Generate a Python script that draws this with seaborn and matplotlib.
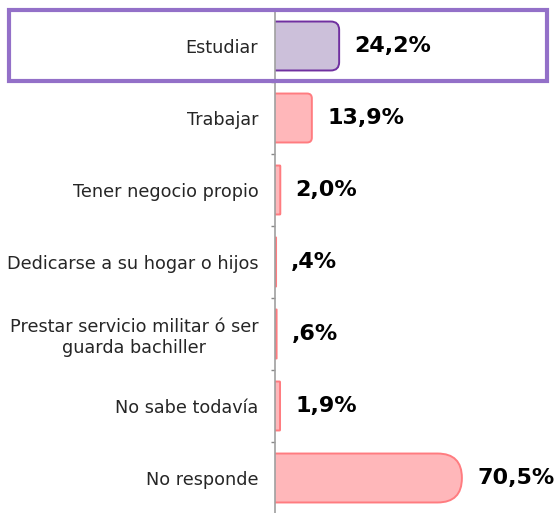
import matplotlib.pyplot as plt
import seaborn as sns
from matplotlib.patches import FancyBboxPatch, Rectangle

categories = ["Estudiar", "Trabajar", "Tener negocio propio",
              "Dedicarse a su hogar o hijos",
              "Prestar servicio militar ó ser\nguarda bachiller",
              "No sabe todavía", "No responde"]
values = [24.2, 13.9, 2.0, 0.4, 0.6, 1.9, 70.5]
labels = ["24,2%", "13,9%", "2,0%", ",4%", ",6%", "1,9%", "70,5%"]

fills = ["#ccc0da"] + ["#ffb7ba"] * 6
edges = ["#7030a0"] + ["#ff7c80"] * 6

sns.set_theme(style="white")
plt.rcParams['font.family'] = ['DejaVu Sans']

fig = plt.figure(figsize=(5.56, 5.13), dpi=100)
ax = fig.add_axes([275 / 556, -1 / 513, 1 - 275 / 556, 1 - 9 / 513])

sns.barplot(x=values, y=categories, hue=categories, palette=fills,
            saturation=1, legend=False, width=0.68, orient="h", ax=ax)
ax.set_xlim(0, 106)

# px per data unit, to keep rounded ends circular-ish
px_x = (556 - 275) / 106
px_y = 72.0
for p, ec, lbl in zip(list(ax.patches), edges, labels):
    x, y, w, h = p.get_x(), p.get_y(), p.get_width(), p.get_height()
    p.set_visible(False)
    r = min(0.13 * w, 0.5 * h * px_y / px_x)
    box = FancyBboxPatch((x - r, y), w + r, h,
                         boxstyle=f"round,pad=0,rounding_size={r}",
                         mutation_aspect=px_x / px_y,
                         fc=p.get_facecolor(), ec=ec, lw=1.4, zorder=2)
    ax.add_patch(box)
    ax.annotate(lbl, (w, y + h / 2), xytext=(11, 0), textcoords='offset points',
                ha='left', va='center', fontsize=16, fontweight='bold', color='black')

ax.set_xlabel("")
ax.set_ylabel("")
ax.set_xticks([])
ax.set_yticks(range(len(categories)))
ax.set_yticklabels(categories, fontsize=12.7, color='#262626',
                   multialignment='center', linespacing=1.2)
ax.set_yticks([i + 0.5 for i in range(len(categories) - 1)], minor=True)
ax.tick_params(axis='y', which='major', length=0, pad=12)
ax.tick_params(axis='y', which='minor', length=3, width=1, color='#888888', left=True)
for s in ["top", "right", "bottom"]:
    ax.spines[s].set_visible(False)
ax.spines["left"].set_color('#a0a0a0')
ax.spines["left"].set_linewidth(1.2)

# highlight box around the first row
fig.patches.append(Rectangle((9 / 556, (513 - 81) / 513), 538 / 556, 71 / 513,
                             transform=fig.transFigure, fill=False,
                             ec='#9370c8', lw=3))

fig.savefig("out.png", dpi=100)
